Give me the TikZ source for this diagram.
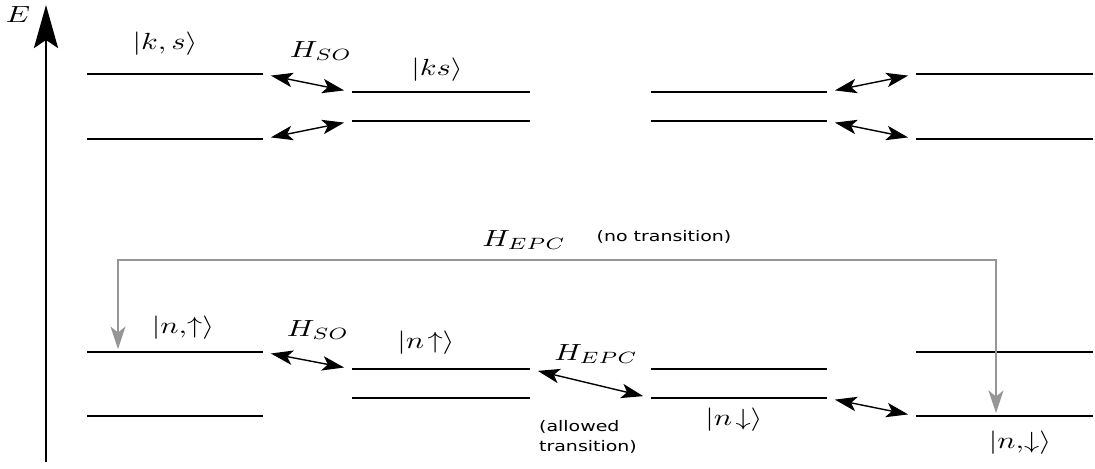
\documentclass[tikz,border=0pt]{standalone}
\usepackage{fontspec}
\usepackage{tikz}
\usetikzlibrary{arrows.meta, calc}
\newfontfamily\notefont{DejaVu Sans}
\definecolor{Ink}{RGB}{0, 0, 0}
\definecolor{Ash}{RGB}{150, 150, 150}
\tikzstyle{level} = [draw=Ink, line width=1.1pt]
\tikzstyle{couple} = [{Stealth[length=4.4mm, width=2.9mm, inset=1.1mm]}-{Stealth[length=4.4mm, width=2.9mm, inset=1.1mm]}, line width=0.8pt, Ink, shorten >=1.6mm, shorten <=1.6mm]
\tikzstyle{jump} = [{Stealth[length=4.5mm, width=3mm, inset=1.2mm]}-{Stealth[length=4.5mm, width=3mm, inset=1.2mm]}, line width=1.1pt, Ash, shorten >=0.6mm, shorten <=0.6mm]
\tikzstyle{state} = [inner sep=0pt, xscale=1.73, yscale=1.33]
\tikzstyle{note} = [inner sep=0pt, xscale=1.3, align=left, font=\notefont\fontsize{8.3}{11.3}\selectfont]

\begin{document}
\begin{tikzpicture}[x=0.02cm, y=-0.02cm]
\useasboundingbox (0,0) rectangle (1095,468);

% Energy axis
\coordinate (Ebase) at (46,462);
\coordinate (Etip) at (46,5);
\draw[-{Stealth[length=8.6mm, width=4.8mm, inset=1.6mm]}, line width=1.7pt, Ink] (Ebase) -- (Etip);
\node (Elabel) [state] at (18,15) {$E$};

% Energy levels: name/start/end/height
\foreach \name/\xa/\xb/\y in {ka1/87/263/74, ka2/87/263/139,
                              kb1/352/530/92, kb2/352/530/121,
                              kc1/651/827/92, kc2/651/827/121,
                              kd1/916/1093/74, kd2/916/1093/139,
                              na1/87/263/352, na2/87/263/416,
                              nb1/352/530/369, nb2/352/530/398,
                              nc1/651/827/369, nc2/651/827/398,
                              nd1/916/1093/352, nd2/916/1093/416}
{
    \coordinate (\name w) at (\xa,\y);
    \coordinate (\name e) at (\xb,\y);
    \draw[level] (\name w) -- (\name e);
}

% Couplings between levels
\draw[couple] (ka1e) -- (kb1w);
\draw[couple] (ka2e) -- (kb2w);
\draw[couple] (kc1e) -- (kd1w);
\draw[couple] (kc2e) -- (kd2w);
\draw[couple] (na1e) -- (nb1w);
\draw[couple] (nb1e) -- (nc2w);
\draw[couple] (nc2e) -- (nd2w);

% Forbidden path
\coordinate (upin) at (118,352);
\coordinate (downin) at (996,416);
\draw[jump] (upin) -- ++(0,-92) -| (downin);

% Labels
\node (ks1) [state] at (165,44) {$|k,s\rangle$};
\node (ks2) [state] at (437,70) {$|ks\rangle$};
\node (hsoTop) [state] at (321,51) {$H_{SO}$};
\node (hsoBot) [state] at (318,330) {$H_{SO}$};
\node (nup1) [state] at (183,328) {$|n,\!\uparrow\rangle$};
\node (nup2) [state] at (426,343) {$|n\!\uparrow\rangle$};
\node (ndown2) [state] at (734,420) {$|n\!\downarrow\rangle$};
\node (ndown1) [state] at (1020,443) {$|n,\!\downarrow\rangle$};
\node (hepcBot) [state] at (596,354) {$H_{EPC}$};
\node (hepcTop) [state] at (524,240) {$H_{EPC}$};
\node (allowed) [note] at (588,437) {(allowed\\transition)};
\node (notrans) [note] at (664,237) {(no transition)};

\end{tikzpicture}
\end{document}
